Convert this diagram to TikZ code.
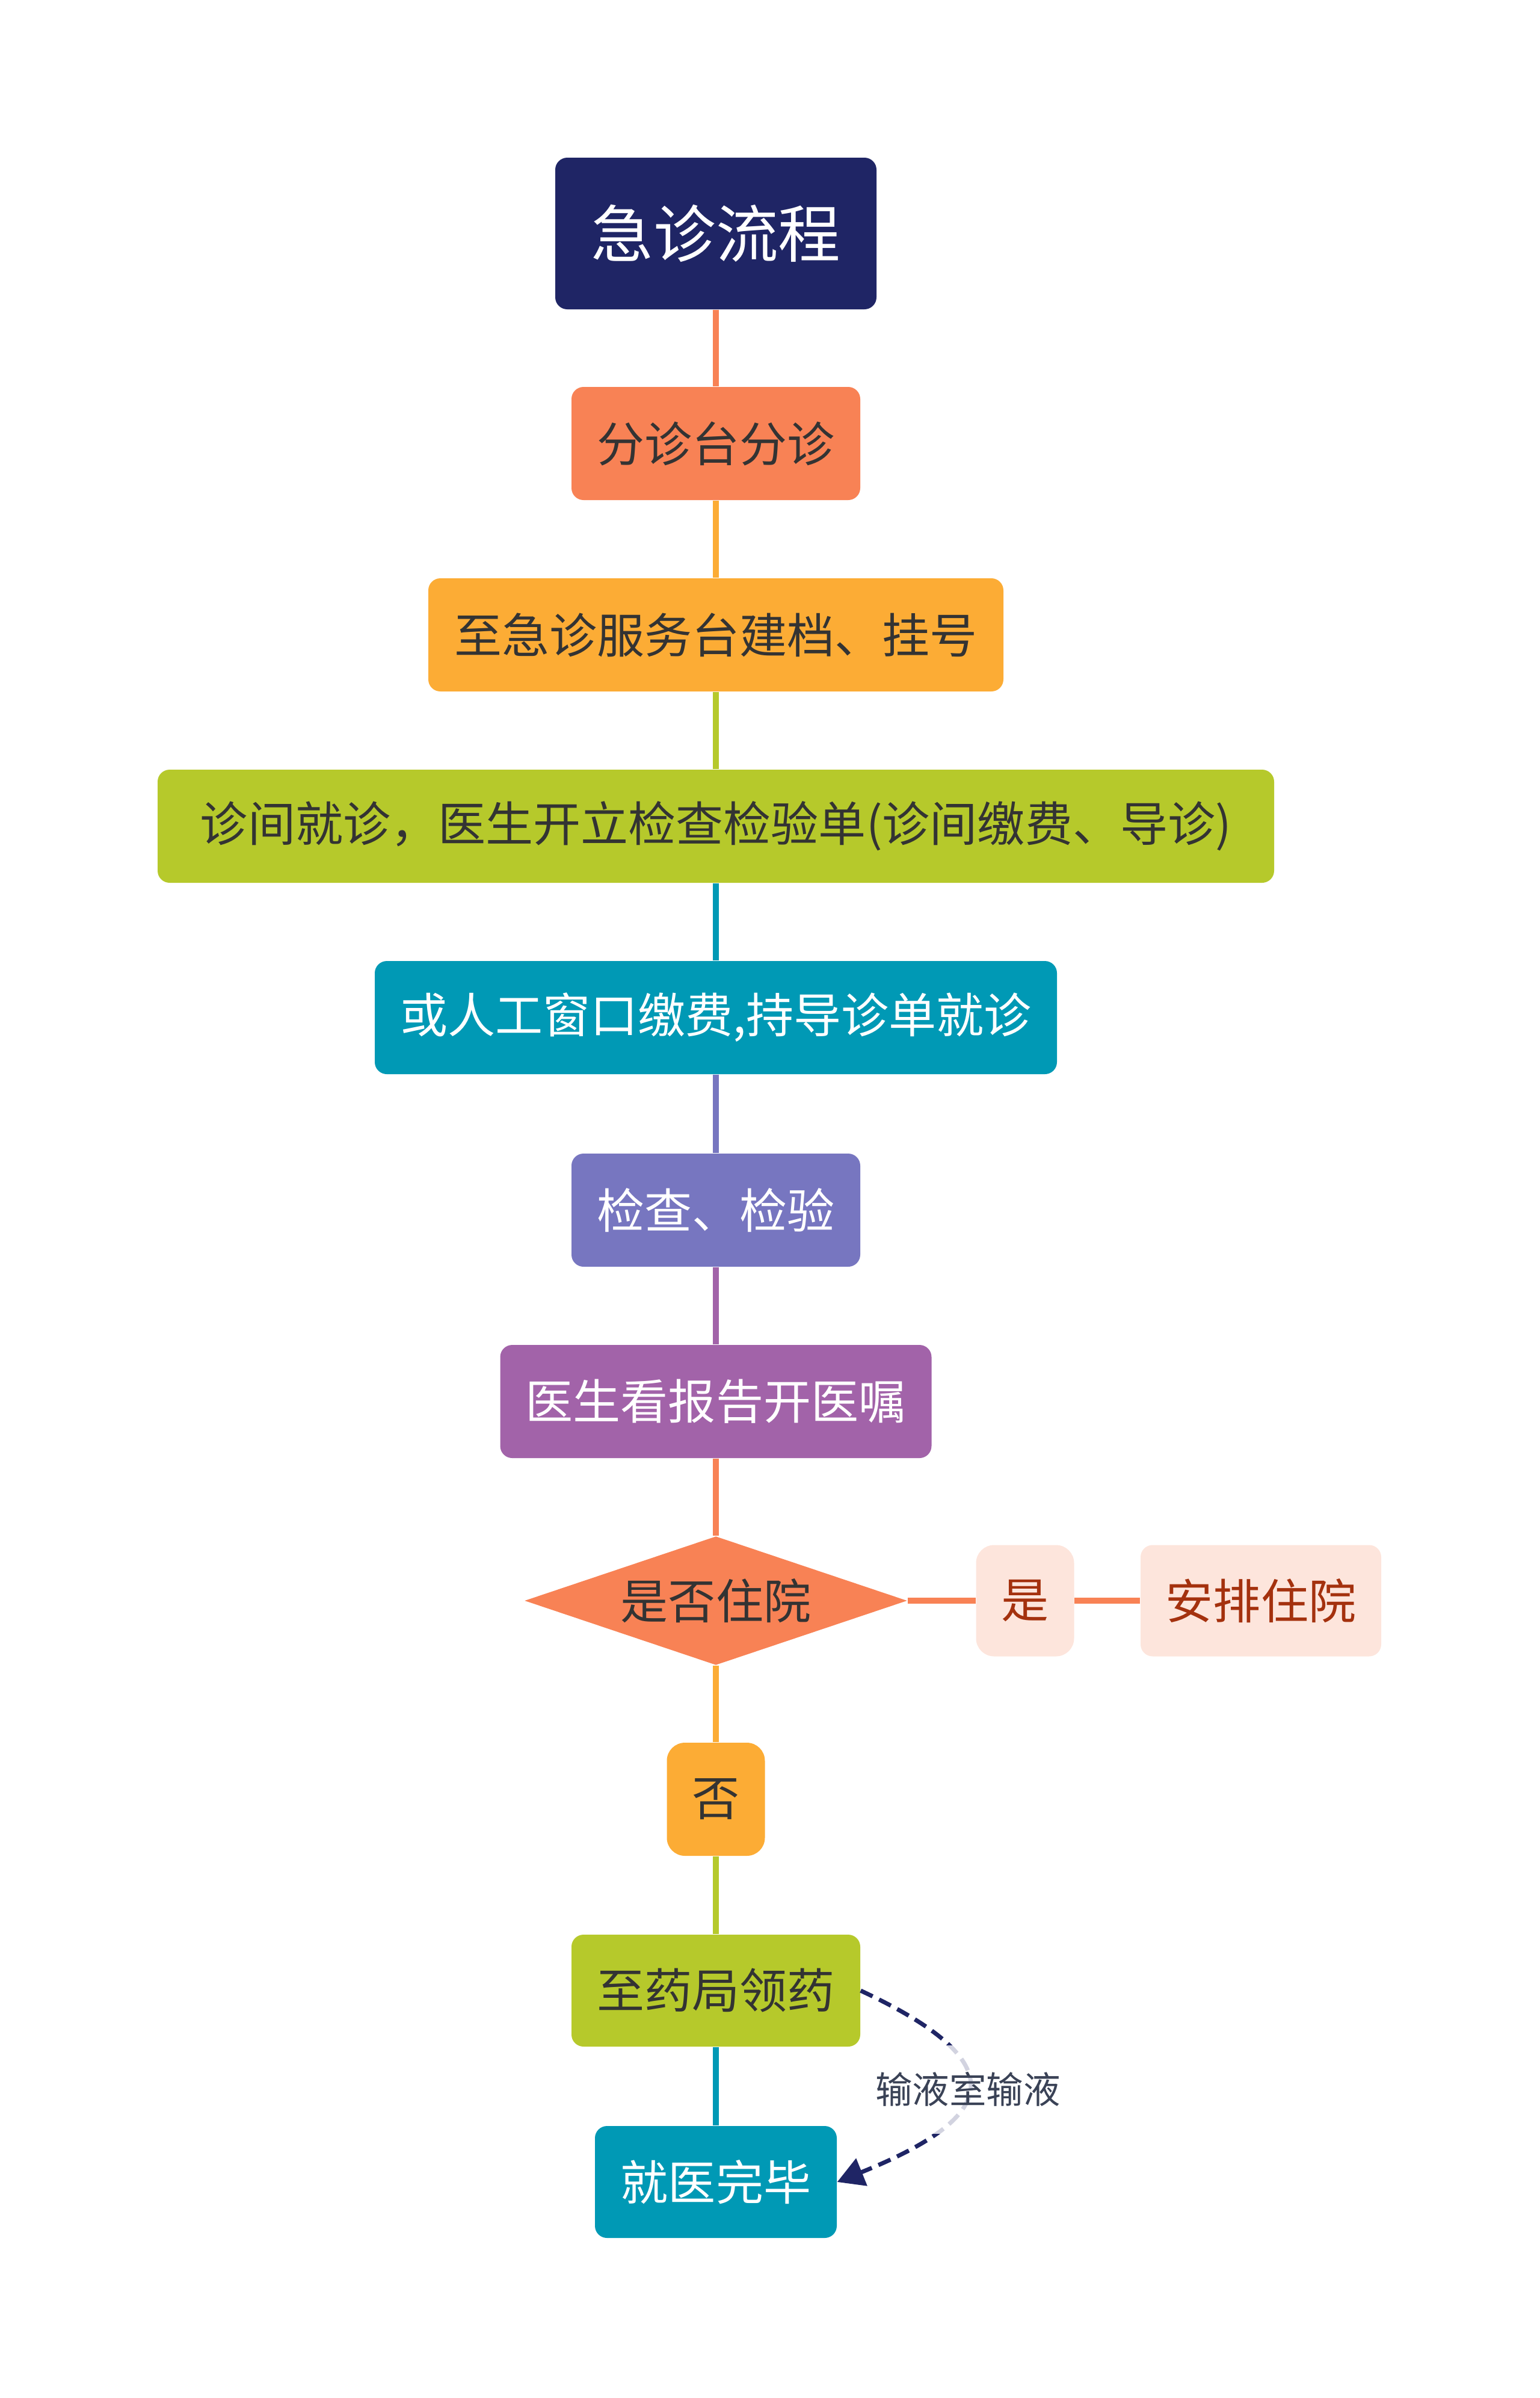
\documentclass[tikz,border=0pt]{standalone}
\usepackage{fontspec}
\setmainfont{Noto Sans CJK SC}
\usetikzlibrary{positioning, arrows.meta, shapes.geometric}
\definecolor{darknavy}{RGB}{31,37,101}
\definecolor{coralcustom}{RGB}{248,130,85}
\definecolor{ambercustom}{RGB}{252,172,53}
\definecolor{limecustom}{RGB}{182,201,43}
\definecolor{tealcustom}{RGB}{0,153,181}
\definecolor{lavendercustom}{RGB}{119,118,192}
\definecolor{plumcustom}{RGB}{162,99,169}
\definecolor{blushcustom}{RGB}{253,229,220}
\definecolor{rusttext}{RGB}{164,49,14}
\definecolor{darktext}{RGB}{51,51,51}
\definecolor{graytext}{RGB}{58,66,86}

\begin{document}
\begin{tikzpicture}[every node/.style={font=\fontsize{22.5pt}{27pt}\selectfont},
 box/.style={rounded corners=0.2cm, minimum height=1.88cm, inner sep=0pt, text=darktext},
 link/.style={line width=0.1cm}]
 \useasboundingbox (0,0) rectangle (25.6,-39.85);
 \node[box, fill=darknavy, text=white, minimum width=5.34cm, minimum height=2.52cm,
  font=\fontsize{29.5pt}{35pt}\selectfont] (title) at (11.9,-3.88) {急诊流程};
 \node[box, fill=coralcustom, minimum width=4.8cm] (triage) at (11.9,-7.37) {分诊台分诊};
 \node[box, fill=ambercustom, minimum width=9.56cm] (register) at (11.9,-10.55) {至急诊服务台建档、挂号};
 \node[box, fill=limecustom, minimum width=18.56cm] (consult) at (11.9,-13.73) {诊间就诊，医生开立检查检验单(诊间缴费、导诊)};
 \node[box, fill=tealcustom, text=white, minimum width=11.34cm] (pay) at (11.9,-16.91) {或人工窗口缴费,持导诊单就诊};
 \node[box, fill=lavendercustom, text=white, minimum width=4.8cm] (exam) at (11.9,-20.11) {检查、检验};
 \node[box, fill=plumcustom, text=white, minimum width=7.17cm] (report) at (11.9,-23.29) {医生看报告开医嘱};
 \node[diamond, shape aspect=3, fill=coralcustom, text=darktext, inner sep=0pt,
  minimum width=6.36cm, minimum height=2.14cm] (stay) at (11.9,-26.6) {是否住院};
 \node[box, fill=blushcustom, text=rusttext, minimum width=1.63cm, minimum height=1.85cm,
  rounded corners=0.3cm] (yes) at (17.04,-26.6) {是};
 \node[box, fill=blushcustom, text=rusttext, minimum width=4.0cm, minimum height=1.85cm] (admit) at (20.96,-26.6) {安排住院};
 \node[box, fill=ambercustom, minimum width=1.63cm, rounded corners=0.3cm] (no) at (11.9,-29.9) {否};
 \node[box, fill=limecustom, minimum width=4.8cm, minimum height=1.86cm] (drug) at (11.9,-33.08) {至药局领药};
 \node[box, fill=tealcustom, text=white, minimum width=4.02cm, minimum height=1.86cm] (done) at (11.9,-36.26) {就医完毕};

 \draw[link, coralcustom] (title) -- (triage);
 \draw[link, ambercustom] (triage) -- (register);
 \draw[link, limecustom] (register) -- (consult);
 \draw[link, tealcustom] (consult) -- (pay);
 \draw[link, lavendercustom] (pay) -- (exam);
 \draw[link, plumcustom] (exam) -- (report);
 \draw[link, coralcustom] (report) -- (stay);
 \draw[link, coralcustom] (stay) -- (yes);
 \draw[link, coralcustom] (yes) -- (admit);
 \draw[link, ambercustom] (stay) -- (no);
 \draw[link, limecustom] (no) -- (drug);
 \draw[link, tealcustom] (drug) -- (done);

 % infusion detour
 \draw[darknavy, line width=0.07cm, dashed, dash pattern=on 0.22cm off 0.12cm,
  -{Triangle[length=0.44cm, width=0.48cm]}]
  (drug.east) to[out=-25, in=22, looseness=2.3]
  node[font=\fontsize{17.5pt}{21pt}\selectfont, text=graytext, fill=white,
   fill opacity=0.8, text opacity=1, inner xsep=0.05cm, inner ysep=0.45cm] (infusion) {输液室输液}
  (done.east);
\end{tikzpicture}
\end{document}
